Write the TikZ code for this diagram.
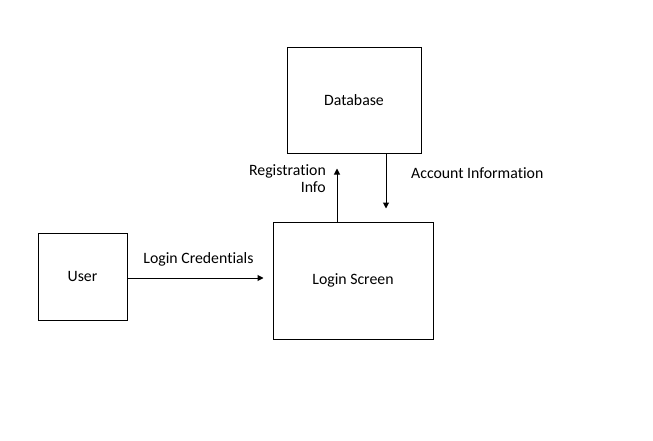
\documentclass[tikz,border=0pt]{standalone}
\usepackage{fontspec}
\setmainfont{Carlito}[Ligatures=NoCommon]
\usepackage{tikz}
\usetikzlibrary{calc,arrows.meta}

\tikzset{
  entity/.style={draw,line width=1pt,inner sep=0pt,font=\fontsize{15.8}{17}\selectfont},
  flow/.style={-{Triangle[length=6pt,width=6pt]},line width=1pt},
  lbl/.style={inner sep=0pt,font=\fontsize{15.8}{17}\selectfont}
}

\begin{document}
\begin{tikzpicture}[x=1pt,y=-1pt]

        % Canvas of the picture
        \useasboundingbox (0,0) rectangle (653,441);
        % The three boxes
        \node[entity,minimum width=134pt,minimum height=105pt] (db) at (354,100.5) {Database};
        \node[entity,minimum width=89pt,minimum height=87pt] (user) at (82.5,276.5) {User};
        \node[entity,minimum width=160pt,minimum height=117pt] (login) at (353,280.5) {Login Screen};

        % User to login screen
        \draw[flow,shorten >=9pt] (user.east |- 0,278) -- (login.west |- 0,278);
        % Login screen up to the database
        \draw[flow,shorten >=15pt] ([xshift=-16pt]login.north) -- ([xshift=-16pt]login.north |- db.south);
        % Database down to the login screen
        \draw[flow,shorten >=13pt] ([xshift=32pt]db.south) -- ([xshift=32pt]db.south |- login.north);

        % Labels of the flows
        \node[lbl] (cred) at (198.5,259) {Login Credentials};
        \node[lbl,anchor=east,align=right] (reg) at (326,179) {Registration\\Info};
        \node[lbl,anchor=west] (acc) at (411,173) {Account Information};
    \end{tikzpicture}
\end{document}
